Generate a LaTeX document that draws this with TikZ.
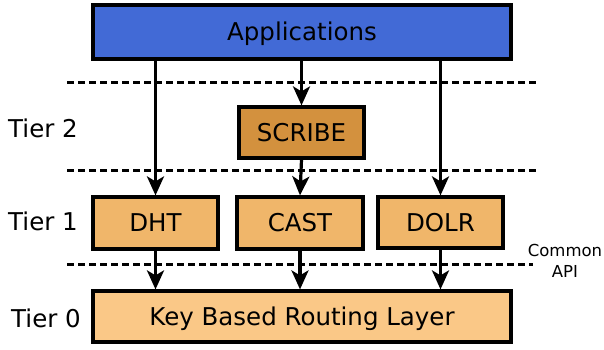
\documentclass[tikz,border=0pt]{standalone}
\usepackage{fontspec}
\setmainfont{DejaVu Sans}
\usetikzlibrary{arrows.meta}
\definecolor{appblue}{RGB}{66,106,214}
\definecolor{tiertwo}{RGB}{211,145,62}
\definecolor{tierone}{RGB}{240,182,106}
\definecolor{tierzero}{RGB}{250,200,135}
\tikzset{
  layerbox/.style={draw=black, line width=3.2pt, inner sep=0pt,
    font=\fontsize{24.5}{28}\selectfont, text height=17.9pt, text depth=0pt},
  tierlabel/.style={font=\fontsize{24.5}{28}\selectfont, inner sep=0pt, text height=17.9pt, text depth=0pt},
  apinote/.style={font=\fontsize{16.5}{21}\selectfont, inner sep=0pt, align=center},
  divider/.style={line width=3pt, dash pattern=on 6.5pt off 4.5pt},
  callarrow/.style={line width=3.2pt, -{Stealth[length=19pt,width=17pt,inset=5pt]}}
}
\begin{document}
\begin{tikzpicture}[x=1pt, y=-1pt]
  \useasboundingbox (0,0) rectangle (604,349);

  % layer boxes
  \node[layerbox, fill=appblue, minimum width=418pt, minimum height=54pt] (app) at (302,32) {Applications};
  \node[layerbox, fill=tiertwo, minimum width=125pt, minimum height=51pt] (scribe) at (301.5,132.5) {SCRIBE};
  \node[layerbox, fill=tierone, minimum width=125pt, minimum height=52pt] (dht) at (155.5,223) {DHT};
  \node[layerbox, fill=tierone, minimum width=126pt, minimum height=52pt] (cast) at (300,223) {CAST};
  \node[layerbox, fill=tierone, minimum width=125pt, minimum height=51pt] (dolr) at (440.5,222.5) {DOLR};
  \node[layerbox, fill=tierzero, minimum width=418pt, minimum height=51pt] (kbr) at (302,316.5) {Key Based Routing Layer};

  % tier labels
  \node[tierlabel] (t2) at (43,129) {Tier 2};
  \node[tierlabel] (t1) at (43,222) {Tier 1};
  \node[tierlabel] (t0) at (46,319) {Tier 0};
  \node[apinote] (api) at (565,261) {Common\\API};

  % tier dividers
  \coordinate (d1l) at (67,82);   \coordinate (d1r) at (536,82);
  \coordinate (d2l) at (67,170);  \coordinate (d2r) at (536,170);
  \coordinate (d3l) at (67,264);  \coordinate (d3r) at (533,264);
  \draw[divider] (d1l) -- (d1r);
  \draw[divider] (d2l) -- (d2r);
  \draw[divider] (d3l) -- (d3r);

  % calls between layers
  \draw[callarrow] (dht.north |- app.south) -- (dht.north);
  \draw[callarrow] (scribe.north |- app.south) -- (scribe.north);
  \draw[callarrow] (dolr.north |- app.south) -- (dolr.north);
  \draw[callarrow] (scribe.south) -- (cast.north);
  \draw[callarrow] (dht.south) -- (dht.south |- kbr.north);
  \draw[callarrow] (cast.south) -- (cast.south |- kbr.north);
  \draw[callarrow] (dolr.south) -- (dolr.south |- kbr.north);
\end{tikzpicture}
\end{document}
